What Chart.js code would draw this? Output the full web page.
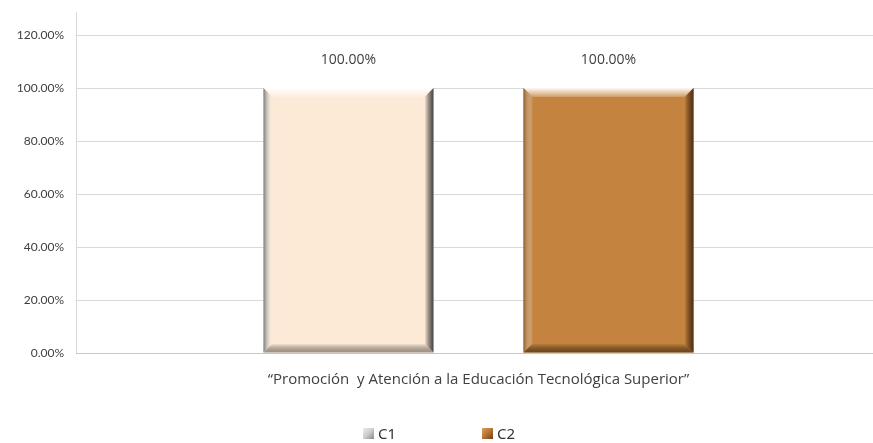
<!DOCTYPE html>
<html>
<head>
<meta charset="utf-8">
<script src="https://cdn.jsdelivr.net/npm/chart.js@4.4.1/dist/chart.umd.min.js"></script>
<style>
  html, body { margin: 0; padding: 0; background: #fff; overflow: hidden; }
  #wrap { position: relative; width: 873px; height: 443px; overflow: hidden; }
  #legend {
    position: absolute; left: 363px; top: 423px;
    display: flex; gap: 86px;
    font-family: "Noto Sans", sans-serif; font-size: 15px; color: #333;
  }
  #legend span { display: flex; align-items: center; }
  #legend i { display: inline-block; width: 11px; height: 11px; margin-right: 4px; }
</style>
</head>
<body>
<div id="wrap">
  <canvas id="chart" width="881" height="443"></canvas>
  <div id="legend"></div>
</div>
<script>
// Datos
const categories = ["“Promoción  y Atención a la Educación Tecnológica Superior”"];
const seriesNames = ["C1", "C2"];
const c1Values = [100];
const c2Values = [100];
const yTicks = [0, 20, 40, 60, 80, 100, 120];

const fills = ["#FCE9D6", "#C4843F"];
const edges = [
  { left: "rgba(110,110,110,0.9)", right: "rgba(60,60,60,0.95)", bottom: "rgba(120,110,100,0.7)" },
  { left: "rgba(140,90,40,0.9)", right: "rgba(80,45,15,0.95)", bottom: "rgba(90,55,20,0.8)" },
];

// Leyenda
const legend = document.getElementById("legend");
seriesNames.forEach((name, i) => {
  const item = document.createElement("span");
  const box = document.createElement("i");
  box.style.background = i === 0
    ? "linear-gradient(135deg, #eee 0%, #ccc 50%, #888 100%)"
    : "linear-gradient(135deg, #e0a060 0%, #b87330 50%, #6b4018 100%)";
  item.appendChild(box);
  item.appendChild(document.createTextNode(name));
  legend.appendChild(item);
});

// Bisel de las barras
const bevel = {
  id: "bevel",
  afterDatasetsDraw(chart) {
    const c = chart.ctx;
    chart.data.datasets.forEach((ds, di) => {
      const e = edges[di];
      chart.getDatasetMeta(di).data.forEach((bar) => {
        const { x, y, base, width } = bar.getProps(["x", "y", "base", "width"], true);
        const l = x - width / 2, r = x + width / 2, t = y, b = base, s = 9;
        let g;
        // arriba
        g = c.createLinearGradient(0, t, 0, t + s);
        g.addColorStop(0, "rgba(255,255,255,0.95)");
        g.addColorStop(1, "rgba(255,255,255,0.2)");
        c.fillStyle = g;
        c.beginPath(); c.moveTo(l, t); c.lineTo(r, t); c.lineTo(r - s, t + s); c.lineTo(l + s, t + s); c.closePath(); c.fill();
        // abajo
        g = c.createLinearGradient(0, b, 0, b - s);
        g.addColorStop(0, e.bottom);
        g.addColorStop(1, "rgba(0,0,0,0)");
        c.fillStyle = g;
        c.beginPath(); c.moveTo(l, b); c.lineTo(r, b); c.lineTo(r - s, b - s); c.lineTo(l + s, b - s); c.closePath(); c.fill();
        // izquierda
        g = c.createLinearGradient(l, 0, l + s, 0);
        g.addColorStop(0, e.left);
        g.addColorStop(1, "rgba(255,255,255,0.1)");
        c.fillStyle = g;
        c.beginPath(); c.moveTo(l, t); c.lineTo(l + s, t + s); c.lineTo(l + s, b - s); c.lineTo(l, b); c.closePath(); c.fill();
        // derecha
        g = c.createLinearGradient(r, 0, r - s, 0);
        g.addColorStop(0, e.right);
        g.addColorStop(1, "rgba(0,0,0,0)");
        c.fillStyle = g;
        c.beginPath(); c.moveTo(r, t); c.lineTo(r - s, t + s); c.lineTo(r - s, b - s); c.lineTo(r, b); c.closePath(); c.fill();
      });
    });
  },
};

// Etiquetas de valor
const valueLabels = {
  id: "valueLabels",
  afterDatasetsDraw(chart) {
    const c = chart.ctx;
    c.save();
    c.font = "14px 'Open Sans', sans-serif";
    c.fillStyle = "#404040";
    c.textAlign = "center";
    c.textBaseline = "middle";
    chart.data.datasets.forEach((ds, di) => {
      chart.getDatasetMeta(di).data.forEach((bar, i) => {
        c.fillText(ds.data[i].toFixed(2) + "%", bar.x, bar.y - 28);
      });
    });
    c.restore();
  },
};

const ctx = document.getElementById("chart").getContext("2d");
const myChart = new Chart(ctx, {
  type: "bar",
  data: {
    labels: categories,
    datasets: [
      { label: seriesNames[0], data: c1Values, backgroundColor: fills[0] },
      { label: seriesNames[1], data: c2Values, backgroundColor: fills[1] },
    ],
  },
  plugins: [bevel, valueLabels],
  options: {
    responsive: false,
    animation: false,
    categoryPercentage: 0.646,
    barPercentage: 0.654,
    layout: { padding: { top: 12, right: 0, bottom: 44, left: 3 } },
    plugins: { legend: { display: false }, tooltip: { enabled: false } },
    scales: {
      y: {
        min: 0,
        max: 128.7,
        afterBuildTicks: (scale) => {
          scale.ticks = yTicks.map((v) => ({ value: v }));
        },
        afterFit: (scale) => {
          scale.width = 73;
          scale.paddingTop = 0;
        },
        grid: { color: "#d9d9d9", drawTicks: false },
        border: { color: "#d9d9d9" },
        ticks: {
          padding: 12,
          color: "#404040",
          font: { family: "Lato, sans-serif", size: 12 },
          callback: (v) => v.toFixed(2) + "%",
        },
      },
      x: {
        grid: { display: false },
        border: { color: "#c8c8c8" },
        ticks: {
          padding: 10,
          color: "#404040",
          font: { family: "'Open Sans', sans-serif", size: 15 },
        },
      },
    },
  },
});
</script>
</body>
</html>
